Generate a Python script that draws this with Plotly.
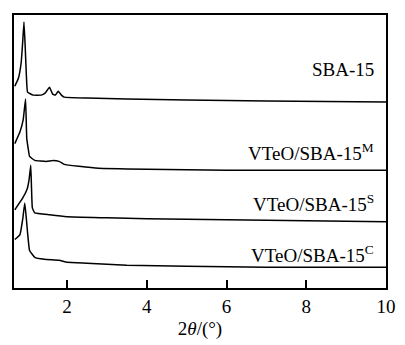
import plotly.graph_objects as go

# Data (2theta in degrees, intensity in arbitrary units, offset stacked)
sba_x = [0.69, 0.78, 0.85, 0.89, 0.92, 0.95, 0.98, 1.01, 1.15, 1.35, 1.45, 1.56, 1.64, 1.71, 1.78, 1.86, 1.93, 2.5, 3.5, 5.0, 7.0, 10.0]
sba_y = [204, 212, 228, 250, 269, 245, 215, 198, 195, 195, 197, 203, 196, 195, 199, 195, 193, 192, 191, 190, 189, 188]

m_x = [0.69, 0.82, 0.9, 0.96, 0.99, 1.03, 1.06, 1.19, 1.48, 1.65, 1.80, 1.93, 2.3, 2.79, 4.0, 6.0, 8.0, 10.0]
m_y = [146, 158, 170, 191, 151, 140, 133, 129, 128, 129, 128, 125, 123, 121, 120, 119, 119, 119]

s_x = [0.69, 0.89, 1.0, 1.05, 1.09, 1.11, 1.13, 1.19, 1.56, 2.0, 3.0, 4.0, 6.0, 8.0, 10.0]
s_y = [79, 91, 100, 110, 124, 100, 81, 76, 74, 72, 71, 70, 69, 68, 67]

c_x = [0.69, 0.82, 0.89, 0.94, 0.98, 1.01, 1.06, 1.19, 1.43, 1.8, 2.0, 2.5, 3.5, 5.0, 7.0, 10.0]
c_y = [49, 54, 70, 86, 70, 56, 38, 31, 29, 28, 26, 25, 23, 22, 21, 21]

labels = ["SBA-15", "VTeO/SBA-15<sup>M</sup>", "VTeO/SBA-15<sup>S</sup>", "VTeO/SBA-15<sup>C</sup>"]
label_y = [221, 138, 86, 34]

tick_vals = [2, 4, 6, 8, 10]
tick_text = ["2", "4", "6", "8", "10"]

series = [(sba_x, sba_y), (m_x, m_y), (s_x, s_y), (c_x, c_y)]

font_family = "Liberation Serif"

fig = go.Figure()
for xs, ys in series:
    fig.add_trace(go.Scatter(x=xs, y=ys, mode="lines",
                             line=dict(color="black", width=1.5, shape="spline", smoothing=0.3),
                             showlegend=False, hoverinfo="skip"))

for lab, ly in zip(labels, label_y):
    fig.add_annotation(x=9.75, y=ly, text=lab, showarrow=False, xanchor="right", yanchor="middle",
                       font=dict(family=font_family, size=19, color="black"))

fig.update_layout(
    width=405, height=345,
    margin=dict(l=14, r=9, t=15, b=54),
    paper_bgcolor="white", plot_bgcolor="white",
)
fig.update_xaxes(range=[0.67, 10], tickvals=tick_vals, ticktext=tick_text,
                 ticks="inside", ticklen=8, tickwidth=2, tickcolor="black",
                 showline=True, linecolor="black", linewidth=1.6, mirror=True,
                 showgrid=False, zeroline=False,
                 title=dict(text="2<i>θ</i>/(°)", standoff=6,
                            font=dict(family=font_family, size=19, color="black")),
                 tickfont=dict(family=font_family, size=19, color="black"))
fig.update_yaxes(range=[0, 276], showticklabels=False,
                 showline=True, linecolor="black", linewidth=1.6, mirror=True,
                 showgrid=False, zeroline=False)

fig.write_html("out.html", config={"displayModeBar": False},
               post_script="document.body.style.margin='0';")
